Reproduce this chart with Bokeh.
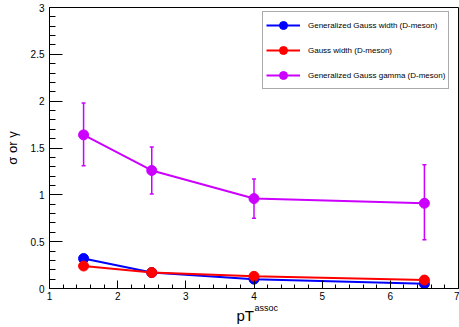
from bokeh.plotting import figure
from bokeh.models import (SingleIntervalTicker, Range1d, Title, Legend, LegendItem,
                          Whisker, ColumnDataSource, TeeHead)
from bokeh.embed import file_html
from bokeh.resources import INLINE

pt = [1.5, 2.5, 4.0, 6.5]
gg_width = [0.32, 0.17, 0.10, 0.05]
g_width = [0.24, 0.17, 0.13, 0.09]
gg_gamma = [1.64, 1.26, 0.96, 0.91]
gamma_lo = [1.31, 1.01, 0.75, 0.52]
gamma_hi = [1.98, 1.51, 1.17, 1.32]

names = ["Generalized Gauss width (D-meson)", "Gauss width (D-meson)",
         "Generalized Gauss gamma (D-meson)"]
colors = ["#0000ff", "#ff0000", "#cc00ff"]

p = figure(width=459, height=327, output_backend="svg", toolbar_location=None,
           x_range=Range1d(1, 7), y_range=Range1d(0, 3),
           min_border_left=49, min_border_right=1, min_border_top=7, min_border_bottom=39)
p.background_fill_color = "white"
p.border_fill_color = "white"
p.outline_line_color = "black"
p.outline_line_width = 1
p.xgrid.visible = False
p.ygrid.visible = False

font = "Liberation Sans"
p.xaxis.ticker = SingleIntervalTicker(interval=1, num_minor_ticks=5)
p.yaxis.ticker = SingleIntervalTicker(interval=0.5, num_minor_ticks=5)
for ax in (p.xaxis, p.yaxis):
    ax.major_tick_out = 0
    ax.minor_tick_out = 0
    ax.axis_line_color = "black"
    ax.major_tick_line_color = "black"
    ax.minor_tick_line_color = "black"
    ax.major_label_text_font = font
    ax.major_label_text_font_size = "10px"
    ax.major_label_text_color = "black"
p.xaxis.major_tick_in = 8
p.xaxis.minor_tick_in = 4
p.yaxis.major_tick_in = 13
p.yaxis.minor_tick_in = 6
p.xaxis.major_label_standoff = 3
p.yaxis.major_label_standoff = 5
p.yaxis.axis_label = "σ or γ"
p.yaxis.axis_label_text_font = font
p.yaxis.axis_label_text_font_size = "13px"
p.yaxis.axis_label_text_font_style = "normal"
p.yaxis.axis_label_text_color = "black"
p.yaxis.axis_label_standoff = 8

src = ColumnDataSource(dict(x=pt, lo=gamma_lo, hi=gamma_hi))
w = Whisker(source=src, base="x", lower="lo", upper="hi", line_color=colors[2], line_width=1.5,
            upper_head=TeeHead(size=4, line_color=colors[2], line_width=1.5),
            lower_head=TeeHead(size=4, line_color=colors[2], line_width=1.5))
p.add_layout(w)

items = []
for ys, c, n in zip([gg_width, g_width, gg_gamma], colors, names):
    l = p.line(pt, ys, line_color=c, line_width=2)
    s = p.scatter(pt, ys, size=10, fill_color=c, line_color=c)
    items.append(LegendItem(label=n, renderers=[l, s]))

legend = Legend(items=items, location=(213, 199), glyph_width=34, glyph_height=20,
                spacing=5, padding=3, margin=0, label_standoff=8,
                label_text_font=font, label_text_font_size="8px",
                label_text_color="black",
                border_line_color="#555555", border_line_width=1,
                background_fill_color="white", background_fill_alpha=1)
p.add_layout(legend)

# x-axis title "pT^assoc" built from two titles in the bottom panel
p.add_layout(Title(text="assoc", align="left", offset=205, standoff=-3,
                   text_font=font, text_font_size="9px", text_font_style="normal",
                   text_color="black"), "below")
p.add_layout(Title(text="pT", align="left", offset=187, standoff=-14,
                   text_font=font, text_font_size="15px", text_font_style="normal",
                   text_color="black"), "below")

open("out.html", "w").write(file_html(p, INLINE))
